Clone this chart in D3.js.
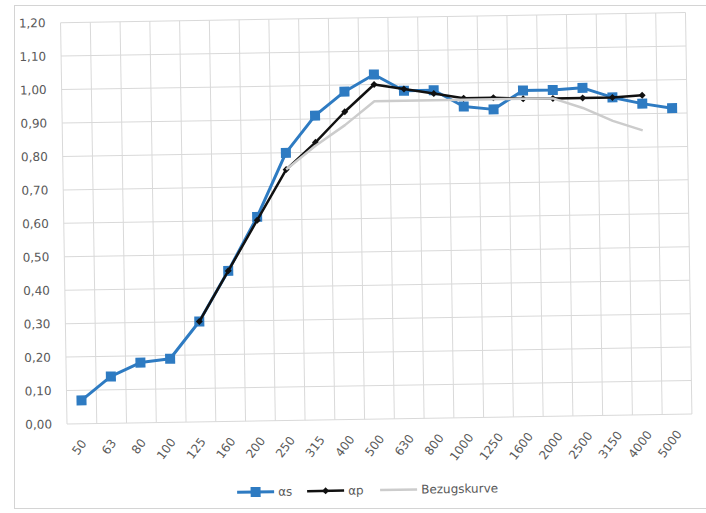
<!DOCTYPE html>
<html><head><meta charset="utf-8">
<script src="https://cdn.jsdelivr.net/npm/d3@7/dist/d3.min.js"></script>
<style>
html,body{margin:0;padding:0;background:#fff;}
svg{display:block;font-family:"DejaVu Sans",sans-serif;}
</style></head><body>
<svg id="chart" width="706" height="513"></svg>
<script>
const categories = ["50","63","80","100","125","160","200","250","315","400","500","630","800","1000","1250","1600","2000","2500","3150","4000","5000"];
const alphaS = [0.07,0.14,0.18,0.19,0.30,0.45,0.61,0.80,0.91,0.98,1.03,0.98,0.98,0.93,0.92,0.975,0.975,0.98,0.95,0.93,0.915];
const alphaP = [null,null,null,null,0.30,0.45,0.60,0.75,0.83,0.92,1.00,0.985,0.97,0.955,0.955,0.95,0.95,0.95,0.95,0.955,null];
const bezug  = [null,null,null,null,null,null,null,0.75,0.82,0.88,0.95,0.95,0.95,0.95,0.95,0.95,0.95,0.92,0.88,0.85,null];
const yTicks = [0,0.1,0.2,0.3,0.4,0.5,0.6,0.7,0.8,0.9,1.0,1.1,1.2];
const seriesNames = ["\u03b1s","\u03b1p","Bezugskurve"];

const svg = d3.select("#chart");
// outer chart border
svg.append("rect").attr("x",14.5).attr("y",5.5).attr("width",705).attr("height",503)
  .attr("fill","#fff").attr("stroke","#d4d4d4").attr("stroke-width",1);

const pLeft = 67, pRight = 692, pTop = 22.6, pBottom = 424;
const g = svg.append("g").attr("transform",`rotate(-0.92,${pLeft},${pBottom})`);

const x = d3.scaleBand().domain(categories).range([pLeft,pRight]).padding(0);
const xc = c => x(c) + x.bandwidth()/2;
const y = d3.scaleLinear().domain([0,1.2]).range([pBottom,pTop]);

// horizontal gridlines
g.append("g").selectAll("line").data(yTicks).join("line")
  .attr("x1",pLeft).attr("x2",pRight)
  .attr("y1",d=>y(d)).attr("y2",d=>y(d))
  .attr("stroke","#d9d9d9").attr("stroke-width",1);
// vertical gridlines (category boundaries)
const bounds = categories.map(c=>x(c)).concat([pRight]);
g.append("g").selectAll("line").data(bounds).join("line")
  .attr("x1",d=>d).attr("x2",d=>d).attr("y1",pTop).attr("y2",pBottom)
  .attr("stroke","#d9d9d9").attr("stroke-width",1);

// y axis labels
const fmt = d => d3.format(".2f")(d).replace(".",",");
g.append("g").selectAll("text").data(yTicks).join("text")
  .attr("x",52).attr("y",d=>y(d)).attr("dy","0.35em")
  .attr("text-anchor","end").attr("font-size",12).attr("fill","#595959")
  .text(fmt);

// x axis labels
g.append("g").selectAll("text").data(categories).join("text")
  .attr("transform",c=>`translate(${xc(c)+5},${pBottom+20}) rotate(-52)`)
  .attr("text-anchor","end").attr("font-size",12).attr("fill","#595959")
  .text(c=>c);

const line = d3.line().defined(d=>d.v!=null).x(d=>xc(d.c)).y(d=>y(d.v));
const toPts = arr => categories.map((c,i)=>({c, v:arr[i]}));

// alpha s
g.append("path").datum(toPts(alphaS)).attr("d",line)
  .attr("fill","none").attr("stroke","#2e7bc2").attr("stroke-width",3).attr("stroke-linejoin","round");
g.append("g").selectAll("rect").data(toPts(alphaS).filter(d=>d.v!=null)).join("rect")
  .attr("x",d=>xc(d.c)-5).attr("y",d=>y(d.v)-5).attr("width",10).attr("height",10)
  .attr("fill","#2e7bc2");

// alpha p
g.append("path").datum(toPts(alphaP)).attr("d",line)
  .attr("fill","none").attr("stroke","#111").attr("stroke-width",2.5).attr("stroke-linejoin","round");
g.append("g").selectAll("path").data(toPts(alphaP).filter(d=>d.v!=null)).join("path")
  .attr("d",d=>{const cx=xc(d.c), cy=y(d.v), r=3.5; return `M${cx},${cy-r}L${cx+r},${cy}L${cx},${cy+r}L${cx-r},${cy}Z`;})
  .attr("fill","#111");

// Bezugskurve
g.append("path").datum(toPts(bezug)).attr("d",line)
  .attr("fill","none").attr("stroke","#cccccc").attr("stroke-width",2.5).attr("stroke-linejoin","round");

// legend
const ly = 495;
const lg = g.append("g");
lg.append("line").attr("x1",236).attr("x2",273).attr("y1",ly).attr("y2",ly).attr("stroke","#2e7bc2").attr("stroke-width",3);
lg.append("rect").attr("x",249.5).attr("y",ly-5).attr("width",10).attr("height",10).attr("fill","#2e7bc2");
lg.append("text").attr("x",277).attr("y",ly).attr("dy","0.35em").attr("font-size",12).attr("fill","#595959").text(seriesNames[0]);
lg.append("line").attr("x1",306).attr("x2",343).attr("y1",ly).attr("y2",ly).attr("stroke","#111").attr("stroke-width",2.5);
lg.append("path").attr("d",`M324.5,${ly-3.5}L328,${ly}L324.5,${ly+3.5}L321,${ly}Z`).attr("fill","#111");
lg.append("text").attr("x",347).attr("y",ly).attr("dy","0.35em").attr("font-size",12).attr("fill","#595959").text(seriesNames[1]);
lg.append("line").attr("x1",379).attr("x2",416).attr("y1",ly).attr("y2",ly).attr("stroke","#cccccc").attr("stroke-width",2.5);
lg.append("text").attr("x",420).attr("y",ly).attr("dy","0.35em").attr("font-size",12).attr("fill","#595959").text(seriesNames[2]);
</script>
</body></html>
